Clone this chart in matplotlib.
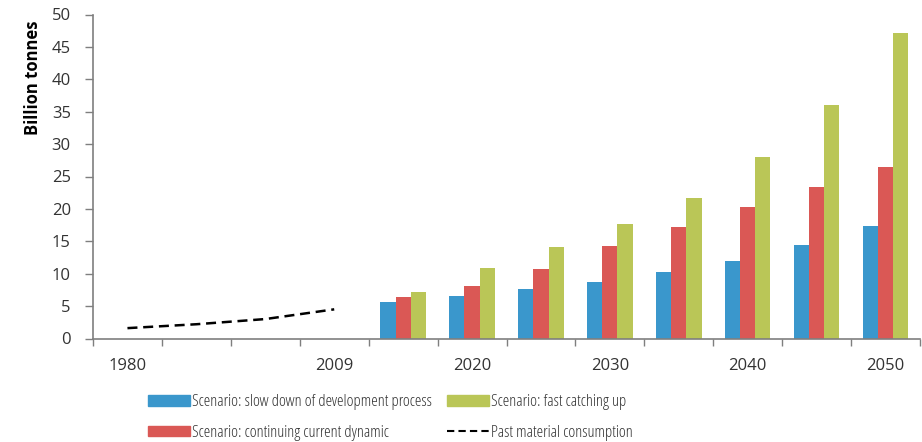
import matplotlib
matplotlib.use("Agg")
import matplotlib.pyplot as plt
import numpy as np
from matplotlib.patches import Patch
from matplotlib.lines import Line2D
from matplotlib import font_manager as fm

plt.rcParams['font.family'] = ['Open Sans', 'DejaVu Sans']

categories = ['1980', '1990', '2000', '2009', '2015', '2020', '2025', '2030', '2035', '2040', '2045', '2050']
tick_labels = ['1980', '', '', '2009', '', '2020', '', '2030', '', '2040', '', '2050']
past_years = ['1980', '1990', '2000', '2009']
past_values = [1.6, 2.2, 3.0, 4.5]
bar_years = ['2015', '2020', '2025', '2030', '2035', '2040', '2045', '2050']
slow_down = [5.7, 6.5, 7.7, 8.7, 10.2, 12.0, 14.4, 17.3]
continuing = [6.4, 8.1, 10.8, 14.2, 17.2, 20.3, 23.4, 26.5]
fast_catching = [7.1, 10.9, 14.1, 17.6, 21.7, 28.0, 36.0, 47.1]

c_blue = '#3A97CC'
c_red = '#DA5855'
c_green = '#BAC657'
txt = '#333333'

# pick a condensed face for the legend if one is installed
entries = [(f.name, str(f.stretch)) for f in fm.fontManager.ttflist]
leg_family, leg_stretch = 'Lato', 'normal'
for fam in ['Open Sans', 'Noto Sans', 'DejaVu Sans', 'Roboto']:
    hits = [s for n, s in entries if n == fam and ('condensed' in s or s in ('75', '87'))]
    if hits:
        leg_family, leg_stretch = fam, ('semi-condensed' if 'semi-condensed' in hits else hits[0])
        break
else:
    if any(n == 'Liberation Sans Narrow' for n, s in entries):
        leg_family = 'Liberation Sans Narrow'

fig = plt.figure(figsize=(9.22, 4.42), dpi=100)
ax = fig.add_axes([93/922, 1-338.5/442, (920-93)/922, (338.5-14.5)/442])

idx = {c: i for i, c in enumerate(categories)}
bx = np.array([idx[y] for y in bar_years], dtype=float)
w = 0.22
ax.bar(bx - w, slow_down, width=w, color=c_blue, align='center', zorder=2)
ax.bar(bx, continuing, width=w, color=c_red, align='center', zorder=2)
ax.bar(bx + w, fast_catching, width=w, color=c_green, align='center', zorder=2)

px = [idx[y] for y in past_years]
ax.plot(px, past_values, color='black', lw=1.8, dashes=(4, 2.3), zorder=3)

ax.set_xlim(-0.5, len(categories) - 0.5)
ax.set_ylim(0, 50)
ax.set_yticks(np.arange(0, 51, 5))
ax.set_xticks(np.arange(len(categories)))
ax.set_xticklabels(tick_labels)
ax.set_xticks(np.arange(len(categories) + 1) - 0.5, minor=True)
ax.tick_params(axis='x', which='major', length=0, pad=14, labelsize=12, colors=txt)
ax.tick_params(axis='x', which='minor', length=5, width=1, color='#7f7f7f', direction='out')
ax.tick_params(axis='y', length=6, width=1, color='#7f7f7f', labelsize=12, labelcolor=txt, pad=10)

for s in ['top', 'right']:
    ax.spines[s].set_visible(False)
for s in ['left', 'bottom']:
    ax.spines[s].set_color('#7f7f7f')
    ax.spines[s].set_linewidth(1.2)

ax.set_ylabel('Billion tonnes', fontsize=12, fontweight='bold', color='black')
ax.yaxis.set_label_coords((42-93)/827, (338.5-78)/324)

fs = 12
lp = fm.FontProperties(family=leg_family, stretch=leg_stretch, size=fs)
fspx = fs * 100 / 72
common = dict(frameon=False, prop=lp, handlelength=42/fspx, handleheight=10/fspx,
              handletextpad=2/fspx, labelspacing=(31 - fspx)/fspx, borderpad=0,
              borderaxespad=0, loc='center left', labelcolor=txt)
h1 = [Patch(color=c_blue), Patch(color=c_red)]
l1 = ['Scenario: slow down of development process', 'Scenario: continuing current dynamic']
h2 = [Patch(color=c_green), Line2D([], [], color='black', lw=1.5, dashes=(3.5, 2))]
l2 = ['Scenario: fast catching up', 'Past material consumption']
yc = 1 - 417.5/442
leg1 = fig.legend(h1, l1, bbox_to_anchor=(148/922, yc), **common)
leg2 = fig.legend(h2, l2, bbox_to_anchor=(447/922, yc), **common)

fig.savefig('out.png', dpi=100)
